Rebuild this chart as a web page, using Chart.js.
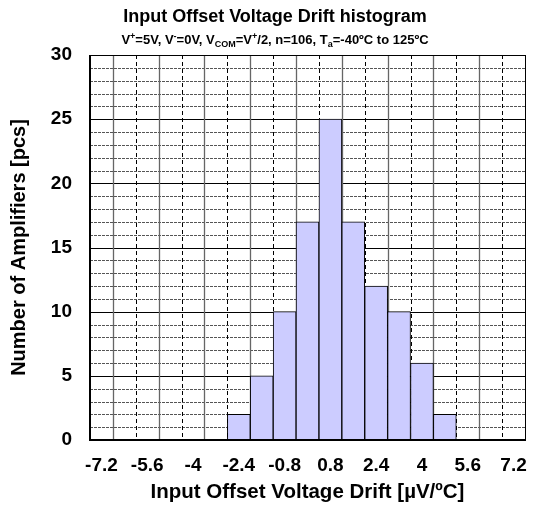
<!DOCTYPE html>
<html>
<head>
<meta charset="utf-8">
<script src="https://cdn.jsdelivr.net/npm/chart.js@4"></script>
<style>
  html, body { margin: 0; padding: 0; background: #fff; }
  #wrap { width: 533px; height: 506px; }
</style>
</head>
<body>
<div id="wrap"><canvas id="chart"></canvas></div>
<script>
// Datos del histograma
const binLabels = ['-7.2', '-6.4', '-5.6', '-4.8', '-4', '-3.2', '-2.4', '-1.6', '-0.8', '0',
  '0.8', '1.6', '2.4', '3.2', '4', '4.8', '5.6', '6.4', '7.2'];
const counts = [0, 0, 0, 0, 0, 0, 2, 5, 10, 17, 25, 17, 12, 10, 6, 2, 0, 0, 0];
const yTicks = [0, 5, 10, 15, 20, 25, 30];

const FONT = "'Liberation Sans', Arial, sans-serif";

// Cuadricula y bordes dibujados con las escalas del grafico
const gridPlugin = {
  id: 'grid',
  beforeDatasetsDraw(chart) {
    const { ctx, chartArea: a, scales: { x, y } } = chart;
    ctx.save();
    // lineas horizontales cada 1 unidad
    for (let v = 1; v < 30; v++) {
      const py = Math.round(y.getPixelForValue(v)) + 0.5;
      ctx.beginPath();
      if (v % 5 === 0) {
        ctx.setLineDash([]);
        ctx.strokeStyle = '#000';
      } else {
        ctx.setLineDash([3, 1]);
        ctx.strokeStyle = '#555';
      }
      ctx.lineWidth = 1;
      ctx.moveTo(a.left, py);
      ctx.lineTo(a.right, py);
      ctx.stroke();
    }
    // lineas verticales entre categorias
    for (let k = 1; k < binLabels.length; k++) {
      const px = Math.round((x.getPixelForValue(k - 1) + x.getPixelForValue(k)) / 2) + 0.5;
      ctx.beginPath();
      if (k % 2 === 1) {
        ctx.setLineDash([]);
        ctx.strokeStyle = '#666';
        ctx.lineWidth = 1.3;
      } else {
        ctx.setLineDash([4, 3]);
        ctx.strokeStyle = '#000';
        ctx.lineWidth = 1;
      }
      ctx.moveTo(px, a.top);
      ctx.lineTo(px, a.bottom);
      ctx.stroke();
    }
    ctx.restore();
  },
  afterDatasetsDraw(chart) {
    const { ctx, chartArea: a } = chart;
    ctx.save();
    ctx.setLineDash([]);
    ctx.strokeStyle = '#000';
    ctx.lineWidth = 1;
    ctx.strokeRect(Math.round(a.left) + 0.5, Math.round(a.top) + 0.5,
      Math.round(a.right - a.left), Math.round(a.bottom - a.top));
    ctx.lineWidth = 2;
    ctx.beginPath();
    ctx.moveTo(a.left, a.top);
    ctx.lineTo(a.left, a.bottom);
    ctx.lineTo(a.right, a.bottom);
    ctx.stroke();
    ctx.restore();
  }
};

// Titulo y subtitulo con superindices y subindices
const titlePlugin = {
  id: 'titles',
  afterDraw(chart) {
    const ctx = chart.ctx;
    ctx.save();
    ctx.fillStyle = '#000';
    ctx.textBaseline = 'alphabetic';
    ctx.textAlign = 'center';
    ctx.font = `bold 18px ${FONT}`;
    ctx.fillText('Input Offset Voltage Drift histogram', 275, 22);

    const parts = [
      ['V', 0], ['+', 1], ['=5V, V', 0], ['-', 1], ['=0V, V', 0], ['COM', -1],
      ['=V', 0], ['+', 1], ['/2, n=106, T', 0], ['a', -1], ['=-40ºC to 125ºC', 0]
    ];
    const fontFor = t => t === 0 ? `bold 13px ${FONT}` : `bold 9px ${FONT}`;
    let total = 0;
    parts.forEach(([s, t]) => { ctx.font = fontFor(t); total += ctx.measureText(s).width; });
    let cx = 275 - total / 2;
    ctx.textAlign = 'left';
    const base = 44;
    parts.forEach(([s, t]) => {
      ctx.font = fontFor(t);
      const dy = t === 1 ? -5 : t === -1 ? 3 : 0;
      ctx.fillText(s, cx, base + dy);
      cx += ctx.measureText(s).width;
    });
    ctx.restore();
  }
};

const ctx = document.getElementById('chart').getContext('2d');
const chart = new Chart(ctx, {
  type: 'bar',
  data: {
    labels: binLabels,
    datasets: [{
      data: counts,
      backgroundColor: '#ccccff',
      borderColor: '#000',
      borderWidth: 1,
      barPercentage: 1,
      categoryPercentage: 1
    }]
  },
  options: {
    responsive: true,
    maintainAspectRatio: false,
    animation: false,
    layout: { padding: { top: 55, right: 8, left: 0, bottom: 0 } },
    plugins: {
      legend: { display: false },
      tooltip: { enabled: false },
      title: { display: false }
    },
    scales: {
      x: {
        grid: { display: false, drawTicks: false },
        border: { display: false },
        ticks: {
          autoSkip: false,
          maxRotation: 0,
          padding: 14,
          color: '#000',
          font: { family: FONT, size: 19, weight: 'bold' },
          callback: (val, i) => i % 2 === 0 ? binLabels[i] : ''
        },
        title: {
          display: true,
          text: 'Input Offset Voltage Drift [µV/ºC]',
          color: '#000',
          font: { family: FONT, size: 20.5, weight: 'bold' },
          padding: { top: 0, bottom: 1 }
        },
        afterFit: s => { s.height = 66; s.paddingLeft = 0; s.paddingRight = 0; }
      },
      y: {
        min: 0,
        max: 30,
        grid: { display: false, drawTicks: false },
        border: { display: false },
        afterBuildTicks: s => { s.ticks = yTicks.map(v => ({ value: v })); },
        ticks: {
          padding: 18,
          color: '#000',
          font: { family: FONT, size: 19, weight: 'bold' }
        },
        title: {
          display: true,
          text: 'Number of Amplifiers [pcs]',
          color: '#000',
          font: { family: FONT, size: 20, weight: 'bold' },
          padding: { top: 7, bottom: 0 }
        },
        afterFit: s => { s.width = 90; }
      }
    }
  },
  plugins: [gridPlugin, titlePlugin]
});
</script>
</body>
</html>
